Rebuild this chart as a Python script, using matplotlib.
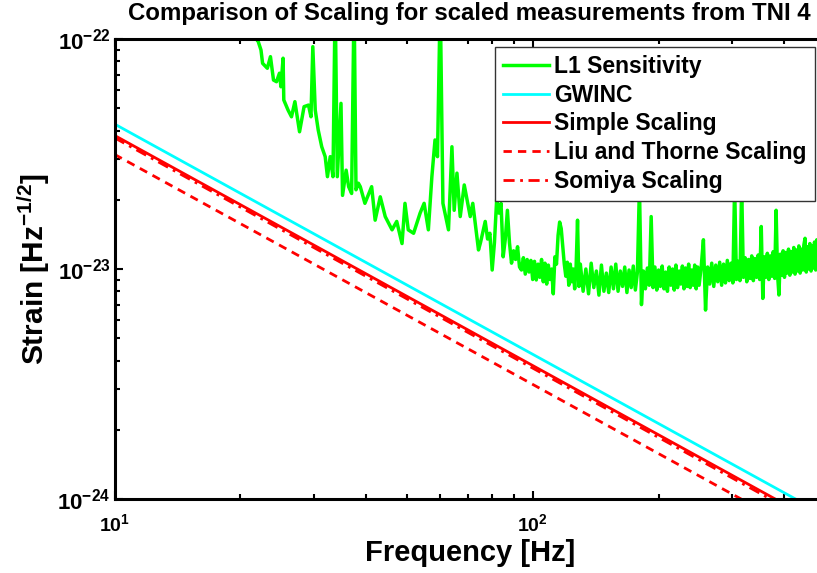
import numpy as np
import matplotlib
matplotlib.use("Agg")
import matplotlib.pyplot as plt
from matplotlib.ticker import NullFormatter, LogLocator

# L1 measured sensitivity, strain in units of 1e-23 /rtHz
# below 75 Hz (read point by point)
l1_freq_low = [
    21.5, 21.9, 22.0, 22.4, 22.6, 23.2, 23.6, 24.0, 24.4, 24.8, 25.0, 25.3, 25.4,
    26.0, 26.5, 27.0, 27.7, 28.4, 29.1, 29.5, 29.8, 30.2, 30.7, 31.3, 31.9, 32.3,
    32.8, 33.3, 33.7, 34.1, 34.8, 35.1, 35.8, 36.3, 36.9, 37.4, 37.8, 38.3, 38.7,
    39.7, 41.2, 42.0, 43.2, 44.4, 46.1, 47.3, 48.7, 49.5, 50.4, 51.9, 53.8, 55.0,
    56.3, 57.4, 58.4, 59.2, 60.1, 61.0, 62.9, 64.1, 64.9, 65.9, 67.1, 68.6, 70.9,
    71.9, 74.2,
]
l1_strain_low = [
    12.0, 9.9, 9.9, 8.96, 7.84, 7.46, 8.38, 6.63, 6.52, 7.10, 6.20, 8.25, 5.43,
    4.91, 4.59, 5.34, 3.95, 5.08, 5.16, 4.59, 9.26, 4.91, 4.02, 3.40, 3.08, 2.52,
    3.08, 2.52, 15.0, 2.52, 5.25, 2.09, 2.69, 2.28, 2.13, 15.0, 2.21, 2.36, 2.28,
    1.93, 2.28, 1.63, 2.06, 1.69, 1.48, 1.61, 1.29, 1.93, 1.48, 1.43, 1.75, 1.93,
    1.48, 2.52, 3.64, 3.08, 15.0, 1.93, 1.48, 3.40, 1.80, 2.61, 1.69, 2.32, 1.69,
    1.93, 1.21,
]
# 75-129 Hz, 1 Hz bins
l1_freq_a = [
    75, 76, 77, 78, 79, 80, 81, 82, 83, 84, 85, 86, 87, 88, 89, 90, 91, 92, 93, 94,
    95, 96, 97, 98, 99, 100, 101, 102, 103, 104, 105, 106, 107, 108, 109, 110, 111,
    112, 113, 114, 115, 116, 117, 118, 119, 120, 121, 122, 123, 124, 125, 126, 127,
    128, 129,
]
l1_strain_a = [
    1.30, 1.45, 1.61, 1.35, 1.43, 0.99, 1.30, 2.00, 1.75, 1.93, 1.13, 1.35, 1.80,
    1.30, 1.06, 1.20, 1.10, 1.25, 1.02, 0.99, 1.12, 0.95, 1.10, 0.97, 1.09, 0.90,
    1.08, 0.896, 1.05, 0.92, 1.10, 0.88, 1.06, 0.86, 1.04, 0.90, 1.00, 0.78, 1.13,
    1.05, 1.40, 1.60, 1.50, 1.25, 1.05, 0.93, 1.07, 0.85, 1.05, 0.88, 1.00, 0.82,
    1.02, 1.63, 0.84,
]
# 130-248 Hz, 2 Hz bins
l1_freq_b = [
    130, 132, 134, 136, 138, 140, 142, 144, 146, 148, 150, 152, 154, 156, 158, 160,
    162, 164, 166, 168, 170, 172, 174, 176, 178, 180, 182, 184, 186, 188, 190, 192,
    194, 196, 198, 200, 202, 204, 206, 208, 210, 212, 214, 216, 218, 220, 222, 224,
    226, 228, 230, 232, 234, 236, 238, 240, 242, 244, 246, 248,
]
l1_strain_b = [
    1.05, 0.80, 1.00, 0.78, 1.06, 0.83, 0.98, 0.77, 1.04, 0.80, 0.96, 0.79, 1.02,
    0.82, 1.05, 0.80, 0.98, 0.84, 1.02, 0.79, 0.99, 0.83, 1.03, 0.81, 0.97, 2.30,
    0.70, 0.98, 0.82, 1.01, 0.85, 1.69, 0.83, 1.02, 0.81, 0.99, 0.84, 1.03, 0.82,
    0.97, 0.80, 1.02, 0.85, 1.00, 0.81, 1.04, 0.83, 0.98, 0.86, 1.03, 0.82, 1.01,
    0.84, 1.05, 0.83, 0.99, 0.85, 1.04, 0.82, 1.02,
]
# 250-499 Hz, 3 Hz bins
l1_freq_c = [
    250, 253, 256, 259, 262, 265, 268, 271, 274, 277, 280, 283, 286, 289, 292, 295,
    298, 301, 304, 307, 310, 313, 316, 319, 322, 325, 328, 331, 334, 337, 340, 343,
    346, 349, 352, 355, 358, 361, 364, 367, 370, 373, 376, 379, 382, 385, 388, 391,
    394, 397, 400, 403, 406, 409, 412, 415, 418, 421, 424, 427, 430, 433, 436, 439,
    442, 445, 448, 451, 454, 457, 460, 463, 466, 469, 472, 475, 478, 481, 484, 487,
    490, 493, 496, 499,
]
l1_strain_c = [
    0.85, 1.03, 1.34, 0.663, 1.02, 0.86, 1.06, 0.84, 1.04, 0.88, 1.07, 0.85, 1.05,
    0.87, 1.09, 0.89, 1.06, 0.87, 2.30, 0.90, 1.08, 0.89, 2.30, 0.92, 1.12, 0.88,
    1.10, 0.91, 1.14, 0.89, 1.11, 0.92, 1.15, 0.90, 1.53, 0.745, 1.13, 0.92, 1.17,
    0.90, 1.14, 0.93, 1.19, 0.91, 1.80, 0.95, 0.771, 1.16, 0.94, 1.20, 0.92, 1.18,
    0.96, 1.22, 0.94, 1.19, 0.97, 1.24, 0.95, 1.21, 0.98, 1.26, 0.96, 1.22, 0.99,
    1.27, 1.36, 0.97, 1.25, 1.00, 1.29, 0.98, 1.26, 1.01, 1.31, 0.99, 1.34, 1.02,
    1.30, 1.04, 1.33, 1.01, 1.35, 1.05,
]

# scaled noise estimates (straight 1/f lines, read at the two ends)
scale_freq = [10, 500]
gwinc_strain = [4.27e-23, 8.5e-25]
simple_strain = [3.81e-23, 7.6e-25]
liu_thorne_strain = [3.15e-23, 6.3e-25]
somiya_strain = [3.72e-23, 7.4e-25]

x_ticks = [10, 100]
x_tick_labels = [r'$\mathbf{10^{1}}$', r'$\mathbf{10^{2}}$']
y_ticks = [1e-24, 1e-23, 1e-22]
y_tick_labels = [r'$\mathbf{10^{-24}}$', r'$\mathbf{10^{-23}}$', r'$\mathbf{10^{-22}}$']

plt.rcParams['font.family'] = ['Liberation Sans', 'DejaVu Sans']
plt.rcParams['font.weight'] = 'bold'
plt.rcParams['mathtext.fontset'] = 'custom'
plt.rcParams['mathtext.rm'] = 'Liberation Sans:bold'
plt.rcParams['mathtext.bf'] = 'Liberation Sans:bold'
plt.rcParams['mathtext.it'] = 'Liberation Sans:bold'

l1_freq = l1_freq_low + l1_freq_a + l1_freq_b + l1_freq_c
l1_strain = np.array(l1_strain_low + l1_strain_a + l1_strain_b + l1_strain_c) * 1e-23

fig = plt.figure(figsize=(8.17, 5.73), dpi=100)
# axes runs a little past the right edge of the picture (cropped original)
ax = fig.add_axes([114.5 / 817, 74 / 573, 710.5 / 817, 460 / 573])

ax.loglog(l1_freq, l1_strain, color='#00ff00', lw=2.5, label='L1 Sensitivity')
ax.loglog(scale_freq, gwinc_strain, color='#00ffff', lw=2.0, label='GWINC')
ax.loglog(scale_freq, simple_strain, color='red', lw=2.0, label='Simple Scaling')
ax.loglog(scale_freq, liu_thorne_strain, color='red', lw=2.0, ls=(0, (3, 2.2)),
          label='Liu and Thorne Scaling')
ax.loglog(scale_freq, somiya_strain, color='red', lw=2.0, ls=(0, (4, 2, 1, 2)),
          label='Somiya Scaling')

ax.set_xlim(10, 500)
ax.set_ylim(1e-24, 1e-22)

ax.set_xticks(x_ticks)
ax.set_xticklabels(x_tick_labels, fontsize=14)
ax.set_yticks(y_ticks)
ax.set_yticklabels(y_tick_labels, fontsize=16)
ax.xaxis.set_minor_locator(LogLocator(base=10, subs=np.arange(2, 10)))
ax.yaxis.set_minor_locator(LogLocator(base=10, subs=np.arange(2, 10)))
ax.xaxis.set_minor_formatter(NullFormatter())
ax.yaxis.set_minor_formatter(NullFormatter())
ax.tick_params(which='both', direction='in', top=True, right=True, width=1.5)
ax.tick_params(which='major', length=6)
ax.tick_params(which='minor', length=3.5)
ax.tick_params(axis='x', pad=10)
ax.tick_params(axis='y', pad=3)
for sp in ax.spines.values():
    sp.set_linewidth(2.2)

ax.set_title('Comparison of Scaling for scaled measurements from TNI 4',
             fontsize=17.3, fontweight='bold', pad=14)
ax.set_xlabel('Frequency [Hz]', fontsize=21, fontweight='bold', labelpad=3)
ax.set_ylabel(r'Strain [Hz$^{\mathbf{-1/2}}$]', fontsize=21.5, fontweight='bold',
              labelpad=4)

leg = ax.legend(loc='upper right', bbox_to_anchor=(815 / 817, 1 - 47 / 573),
                bbox_transform=fig.transFigure, borderaxespad=0, fontsize=16.5,
                frameon=True, fancybox=False, framealpha=1, handlelength=2.0,
                handletextpad=0.25, labelspacing=0.25, borderpad=0.35)
leg.get_frame().set_edgecolor('#333333')
leg.get_frame().set_linewidth(1.0)
for t in leg.get_texts():
    t.set_fontweight('bold')

fig.savefig('out.png', dpi=100)
